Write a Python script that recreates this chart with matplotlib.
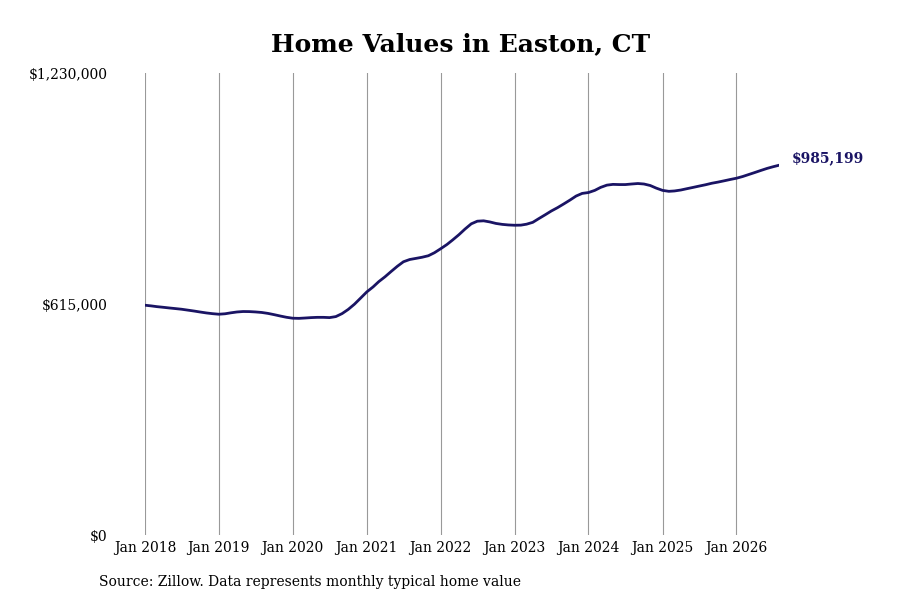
import matplotlib
matplotlib.use("Agg")
import matplotlib.pyplot as plt
import pandas as pd

plt.rcParams['font.family'] = ['DejaVu Serif']

start_month = "2018-01-01"
values = [
    # 2018
    612300, 610500, 608500, 606800, 605000, 603300, 601600, 599200, 596800, 594200, 591700, 589800,
    # 2019
    588300, 589500, 592000, 594300, 595500, 595300, 594400, 593000, 590500, 587200, 583500, 580200,
    # 2020
    577700, 577300, 578200, 579300, 580000, 580000, 579300, 582000, 590000, 601000, 615000, 631000,
    # 2021
    647700, 661000, 675000, 688000, 702000, 716000, 728000, 734000, 737000, 740000, 744000, 752000,
    # 2022
    762700, 774000, 786000, 800000, 815000, 829000, 836000, 837000, 834000, 830000, 827500, 826000,
    # 2023
    825200, 825500, 828000, 833000, 843000, 853000, 863000, 872000, 882000, 892000, 903000, 910000,
    # 2024
    912300, 918000, 926000, 932000, 934000, 933500, 933500, 935000, 936300, 935000, 931000, 924000,
    # 2025
    918000, 915500, 916500, 919000, 922500, 926000, 929500, 933000, 937000, 940000, 943500, 947000,
    # 2026
    950400, 955000, 960000, 965500, 971000, 976500, 981000, 985199,
]
dates = pd.date_range(start_month, periods=len(values), freq="MS")

tick_years = list(range(2018, 2027))
tick_labels = [f"Jan {y}" for y in tick_years]
y_ticks = [0, 615000, 1230000]
y_labels = ["$0", "$615,000", "$1,230,000"]
title = "Home Values in Easton, CT"
source = "Source: Zillow. Data represents monthly typical home value"
end_label = "$985,199"

line_color = "#1a1464"

fig = plt.figure(figsize=(9, 6), dpi=100)
ax = fig.add_axes([0.161, 0.108, 0.705, 0.770])

ax.plot(dates, values, color=line_color, linewidth=2.0, solid_capstyle='round')

tick_dates = [pd.Timestamp(f"{y}-01-01") for y in tick_years]
ax.set_xticks(tick_dates)
ax.set_xticklabels(tick_labels, fontsize=10)
ax.set_yticks(y_ticks)
ax.set_yticklabels(y_labels, fontsize=10)
ax.set_ylim(0, 1230000)
ax.set_xlim(dates[0], dates[-1])

for d in tick_dates:
    ax.axvline(d, color="#999999", linewidth=0.8, zorder=0)

for s in ax.spines.values():
    s.set_visible(False)
ax.tick_params(axis='x', length=0, pad=4)
ax.tick_params(axis='y', length=0, pad=27)

ax.annotate(end_label, xy=(dates[-1], values[-1]), xytext=(9, 5),
            textcoords='offset points', ha='left', va='center',
            fontsize=10, fontweight='bold', color=line_color)

fig.text(0.512, 0.927, title, ha='center', va='center', fontsize=18, fontweight='bold')
fig.text(0.11, 0.03, source, ha='left', va='center', fontsize=10)

fig.savefig("out.png", dpi=100)
